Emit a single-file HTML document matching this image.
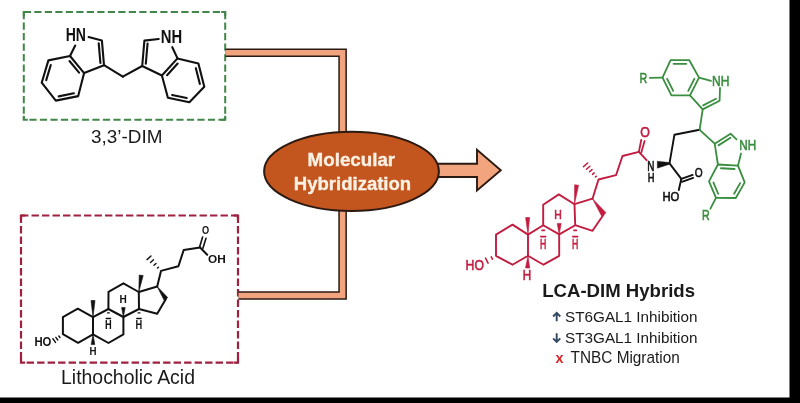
<!DOCTYPE html>
<html><head><meta charset="utf-8"><style>
html,body{margin:0;padding:0;background:#fff;width:800px;height:403px;overflow:hidden;position:relative}
</style></head><body>
<svg width="800" height="403" viewBox="0 0 800 403" style="position:absolute;left:0;top:0;will-change:transform">
<rect width="800" height="403" fill="#fff"/>
<line x1="23.8" y1="12" x2="225.2" y2="12" stroke="#42864a" stroke-width="2" stroke-dasharray="7.2 3.3"/>
<line x1="29.4" y1="119.8" x2="225.2" y2="119.8" stroke="#42864a" stroke-width="2" stroke-dasharray="7.2 3.3"/>
<line x1="23.8" y1="12" x2="23.8" y2="119.8" stroke="#42864a" stroke-width="2" stroke-dasharray="7.2 3.3"/>
<line x1="225.2" y1="12" x2="225.2" y2="119.8" stroke="#42864a" stroke-width="2" stroke-dasharray="7.2 3.3"/>
<path d="M26.8,12 L23.8,12 L23.8,15" fill="none" stroke="#42864a" stroke-width="2" stroke-linecap="square"/>
<path d="M222.2,12 L225.2,12 L225.2,15" fill="none" stroke="#42864a" stroke-width="2" stroke-linecap="square"/>
<path d="M222.2,119.8 L225.2,119.8 L225.2,116.8" fill="none" stroke="#42864a" stroke-width="2" stroke-linecap="square"/>
<path d="M26.8,119.8 L23.8,119.8 L23.8,116.8" fill="none" stroke="#42864a" stroke-width="2" stroke-linecap="square"/>
<line x1="21" y1="215.5" x2="238" y2="215.5" stroke="#a0203f" stroke-width="2.2" stroke-dasharray="7.4 3.1"/>
<line x1="26.6" y1="362.6" x2="238" y2="362.6" stroke="#a0203f" stroke-width="2.2" stroke-dasharray="7.4 3.1"/>
<line x1="21" y1="215.5" x2="21" y2="362.6" stroke="#a0203f" stroke-width="2.2" stroke-dasharray="7.4 3.1"/>
<line x1="238" y1="215.5" x2="238" y2="362.6" stroke="#a0203f" stroke-width="2.2" stroke-dasharray="7.4 3.1"/>
<path d="M24,215.5 L21,215.5 L21,218.5" fill="none" stroke="#a0203f" stroke-width="2.2" stroke-linecap="square"/>
<path d="M235,215.5 L238,215.5 L238,218.5" fill="none" stroke="#a0203f" stroke-width="2.2" stroke-linecap="square"/>
<path d="M235,362.6 L238,362.6 L238,359.6" fill="none" stroke="#a0203f" stroke-width="2.2" stroke-linecap="square"/>
<path d="M24,362.6 L21,362.6 L21,359.6" fill="none" stroke="#a0203f" stroke-width="2.2" stroke-linecap="square"/>
<polyline points="225.5,52.7 342.6,52.7 342.6,150" fill="none" stroke="#2a1a12" stroke-width="8.6" stroke-linejoin="miter"/>
<polyline points="225.5,52.7 342.6,52.7 342.6,150" fill="none" stroke="#f2a47e" stroke-width="5.6" stroke-linejoin="miter"/>
<polyline points="238.5,295.5 342.6,295.5 342.6,190" fill="none" stroke="#2a1a12" stroke-width="8.6" stroke-linejoin="miter"/>
<polyline points="238.5,295.5 342.6,295.5 342.6,190" fill="none" stroke="#f2a47e" stroke-width="5.6" stroke-linejoin="miter"/>
<polygon points="425,163.7 477,163.7 477,149.8 500.8,170.3 477,190.5 477,177 425,177" fill="#f2a47e" stroke="#2a1a12" stroke-width="1.9" stroke-linejoin="miter"/>
<ellipse cx="351.5" cy="171.3" rx="87.4" ry="39.6" fill="#c3551e" stroke="#2a1a12" stroke-width="2"/>
<text x="307.6" y="165.6" font-family="Liberation Sans" font-size="18.55" font-weight="bold" fill="#fdf1e4" stroke="#fdf1e4" stroke-width="0.35" textLength="87.56" lengthAdjust="spacingAndGlyphs">Molecular</text>
<text x="293.8" y="189.5" font-family="Liberation Sans" font-size="18.12" font-weight="bold" fill="#fdf1e4" stroke="#fdf1e4" stroke-width="0.35" textLength="117.37" lengthAdjust="spacingAndGlyphs">Hybridization</text>
<text x="91" y="142.5" font-family="Liberation Sans" font-size="18.14" font-weight="normal" fill="#1a1a1a" textLength="71.37" lengthAdjust="spacingAndGlyphs">3,3’-DIM</text>
<text x="61" y="383.5" font-family="Liberation Sans" font-size="19.71" font-weight="normal" fill="#1a1a1a" textLength="133.97" lengthAdjust="spacingAndGlyphs">Lithocholic Acid</text>
<polygon points="70,56 48.4,60.4 41.7,82.7 55.8,100.6 78.2,96.1 84.1,73.1 70,56" fill="none" stroke="#111" stroke-width="2.1" stroke-linejoin="round" stroke-linecap="round"/>
<line x1="69.48" y1="61.03" x2="79.07" y2="72.65" stroke="#111" stroke-width="2.1" stroke-linecap="round"/>
<line x1="50.78" y1="65" x2="46.22" y2="80.17" stroke="#111" stroke-width="2.1" stroke-linecap="round"/>
<line x1="58.67" y1="96.35" x2="73.91" y2="93.29" stroke="#111" stroke-width="2.1" stroke-linecap="round"/>
<polyline points="75.2,45.5 70,56" fill="none" stroke="#111" stroke-width="2.1" stroke-linejoin="round" stroke-linecap="round"/>
<polyline points="88.6,37.1 101.9,40.6 104,65.2 84.1,73.1" fill="none" stroke="#111" stroke-width="2.1" stroke-linejoin="round" stroke-linecap="round"/>
<line x1="98.72" y1="43.35" x2="100.4" y2="63.03" stroke="#111" stroke-width="2.1" stroke-linecap="round"/>
<polyline points="104,65.2 122.8,76.6" fill="none" stroke="#111" stroke-width="2.1" stroke-linejoin="round" stroke-linecap="round"/>
<text x="65.7" y="41.1" font-family="Liberation Sans" font-size="17.68" font-weight="bold" fill="#111" textLength="20.29" lengthAdjust="spacingAndGlyphs">HN</text>
<polygon points="177.5,58.4 198.4,63.6 204.3,86.7 189.4,102.3 167.9,97.8 161.9,75.5 177.5,58.4" fill="none" stroke="#111" stroke-width="2.1" stroke-linejoin="round" stroke-linecap="round"/>
<line x1="177.66" y1="63.56" x2="167.06" y2="75.19" stroke="#111" stroke-width="2.1" stroke-linecap="round"/>
<line x1="195.86" y1="68.19" x2="199.87" y2="83.89" stroke="#111" stroke-width="2.1" stroke-linecap="round"/>
<line x1="186.7" y1="98.06" x2="172.08" y2="95" stroke="#111" stroke-width="2.1" stroke-linecap="round"/>
<polyline points="172.3,47.2 177.5,58.4" fill="none" stroke="#111" stroke-width="2.1" stroke-linejoin="round" stroke-linecap="round"/>
<polyline points="158.7,39 144.4,40.6 142.2,66 161.9,75.5" fill="none" stroke="#111" stroke-width="2.1" stroke-linejoin="round" stroke-linecap="round"/>
<line x1="147.57" y1="43.43" x2="145.81" y2="63.75" stroke="#111" stroke-width="2.1" stroke-linecap="round"/>
<polyline points="122.8,76.6 142.2,66" fill="none" stroke="#111" stroke-width="2.1" stroke-linejoin="round" stroke-linecap="round"/>
<text x="160.8" y="43.2" font-family="Liberation Sans" font-size="17.54" font-weight="bold" fill="#111" textLength="21.39" lengthAdjust="spacingAndGlyphs">NH</text>
<polygon points="93,317.2 77.8,308.7 62.9,317.2 62.9,334.2 78.1,342.8 93,334.3 93,317.2" fill="none" stroke="#111" stroke-width="2.0" stroke-linejoin="round" stroke-linecap="round"/>
<polyline points="93,317.2 108.4,309 123.4,317 123.4,334.4 108.5,343 93,334.3" fill="none" stroke="#111" stroke-width="2.0" stroke-linejoin="round" stroke-linecap="round"/>
<polyline points="108.4,309 108.5,291.8 123.4,283.3 138.8,292 139,309 123.4,317" fill="none" stroke="#111" stroke-width="2.0" stroke-linejoin="round" stroke-linecap="round"/>
<polyline points="138.8,292 157.2,286.5" fill="none" stroke="#111" stroke-width="2.0" stroke-linejoin="round" stroke-linecap="round"/>
<polyline points="165.9,298.9 157.2,313.8 139,309" fill="none" stroke="#111" stroke-width="2.0" stroke-linejoin="round" stroke-linecap="round"/>
<polygon points="157.2,286.5 164.06,300.19 167.74,297.61" fill="#111" stroke="#111" stroke-width="0.6" stroke-linejoin="round"/>
<polygon points="138.8,292 143.18,275.58 139.22,275.02" fill="#111" stroke="#111" stroke-width="0.6" stroke-linejoin="round"/>
<polygon points="93,317.2 95,300.5 91,300.5" fill="#111" stroke="#111" stroke-width="0.6" stroke-linejoin="round"/>
<polygon points="123.4,317 125.2,307.6 121.6,307.6" fill="#111" stroke="#111" stroke-width="0.6" stroke-linejoin="round"/>
<text x="119.5" y="303.4" font-family="Liberation Sans" font-size="11.3" font-weight="bold" fill="#111" textLength="7.32" lengthAdjust="spacingAndGlyphs">H</text>
<polygon points="93,334.3 91.2,344.6 94.8,344.6" fill="#111" stroke="#111" stroke-width="0.6" stroke-linejoin="round"/>
<text x="89.5" y="354.5" font-family="Liberation Sans" font-size="11.45" font-weight="bold" fill="#111" textLength="7.02" lengthAdjust="spacingAndGlyphs">H</text>
<line x1="107.5" y1="312.9" x2="109.3" y2="312.9" stroke="#111" stroke-width="1.4" stroke-linecap="round"/>
<line x1="106.2" y1="318.5" x2="110.6" y2="318.5" stroke="#111" stroke-width="1.4" stroke-linecap="round"/>
<text x="105" y="328.5" font-family="Liberation Sans" font-size="12.17" font-weight="bold" fill="#111" textLength="6.72" lengthAdjust="spacingAndGlyphs">H</text>
<line x1="138.1" y1="312.9" x2="139.9" y2="312.9" stroke="#111" stroke-width="1.4" stroke-linecap="round"/>
<line x1="136.8" y1="318.5" x2="141.2" y2="318.5" stroke="#111" stroke-width="1.4" stroke-linecap="round"/>
<text x="135.6" y="328.5" font-family="Liberation Sans" font-size="12.17" font-weight="bold" fill="#111" textLength="6.72" lengthAdjust="spacingAndGlyphs">H</text>
<line x1="59.97" y1="337.5" x2="58.87" y2="336.02" stroke="#111" stroke-width="1.4" stroke-linecap="round"/>
<line x1="57.76" y1="339.98" x2="55.86" y2="337.38" stroke="#111" stroke-width="1.4" stroke-linecap="round"/>
<line x1="55.56" y1="342.45" x2="52.84" y2="338.75" stroke="#111" stroke-width="1.4" stroke-linecap="round"/>
<text x="34.4" y="345.7" font-family="Liberation Sans" font-size="12.03" font-weight="bold" fill="#111" textLength="17" lengthAdjust="spacingAndGlyphs">HO</text>
<polyline points="157.2,286.5 161,270.9 178.4,266.3 183.7,250 200.1,247.5" fill="none" stroke="#111" stroke-width="2.0" stroke-linejoin="round" stroke-linecap="round"/>
<line x1="157.5" y1="268.08" x2="158.5" y2="267.17" stroke="#111" stroke-width="1.4" stroke-linecap="round"/>
<line x1="154" y1="265.26" x2="156" y2="263.44" stroke="#111" stroke-width="1.4" stroke-linecap="round"/>
<line x1="150.51" y1="262.44" x2="153.49" y2="259.71" stroke="#111" stroke-width="1.4" stroke-linecap="round"/>
<line x1="147.01" y1="259.62" x2="150.99" y2="255.98" stroke="#111" stroke-width="1.4" stroke-linecap="round"/>
<line x1="199.6" y1="247" x2="202.6" y2="237" stroke="#111" stroke-width="1.6" stroke-linecap="round"/>
<line x1="202.9" y1="248.2" x2="206" y2="238.2" stroke="#111" stroke-width="1.6" stroke-linecap="round"/>
<line x1="200.1" y1="247.5" x2="207.2" y2="254.8" stroke="#111" stroke-width="2.0" stroke-linecap="round"/>
<text x="202.1" y="234" font-family="Liberation Sans" font-size="10.29" font-weight="bold" fill="#111" textLength="7.18" lengthAdjust="spacingAndGlyphs">O</text>
<text x="208.1" y="262.5" font-family="Liberation Sans" font-size="10.57" font-weight="bold" fill="#111" textLength="17.7" lengthAdjust="spacingAndGlyphs">OH</text>
<polygon points="528,234.6 512.5,224.6 496,234.6 496,255.8 512.5,264.7 528,255.8 528,234.6" fill="none" stroke="#c21d40" stroke-width="1.9" stroke-linejoin="round" stroke-linecap="round"/>
<polyline points="528,234.6 543.2,225.2 559.2,234.4 559.2,255.8 543.5,264.7 528,255.8" fill="none" stroke="#c21d40" stroke-width="1.9" stroke-linejoin="round" stroke-linecap="round"/>
<polyline points="543.2,225.2 543.2,204.8 558.8,194.4 574.5,204.2 575.2,225.2 559.2,234.4" fill="none" stroke="#c21d40" stroke-width="1.9" stroke-linejoin="round" stroke-linecap="round"/>
<polyline points="574.5,204.2 592.5,198.7" fill="none" stroke="#c21d40" stroke-width="1.9" stroke-linejoin="round" stroke-linecap="round"/>
<polyline points="603.8,214.3 592.5,230.8 575.2,225.2" fill="none" stroke="#c21d40" stroke-width="1.9" stroke-linejoin="round" stroke-linecap="round"/>
<polygon points="592.5,198.7 601.57,215.91 606.03,212.69" fill="#c21d40" stroke="#c21d40" stroke-width="0.6" stroke-linejoin="round"/>
<polygon points="574.5,204.2 578.59,185.22 574.61,184.78" fill="#c21d40" stroke="#c21d40" stroke-width="0.6" stroke-linejoin="round"/>
<polygon points="528,234.6 529.6,217.45 525.6,217.55" fill="#c21d40" stroke="#c21d40" stroke-width="0.6" stroke-linejoin="round"/>
<polygon points="559.2,234.4 561.2,223.4 557.2,223.4" fill="#c21d40" stroke="#c21d40" stroke-width="0.6" stroke-linejoin="round"/>
<text x="554.2" y="218.6" font-family="Liberation Sans" font-size="12.46" font-weight="normal" fill="#c21d40" stroke="#c21d40" stroke-width="0.6" textLength="7.52" lengthAdjust="spacingAndGlyphs">H</text>
<polygon points="528,255.8 525.5,267.93 529.7,268.07" fill="#c21d40" stroke="#c21d40" stroke-width="0.6" stroke-linejoin="round"/>
<text x="522.8" y="280.4" font-family="Liberation Sans" font-size="14.2" font-weight="normal" fill="#c21d40" stroke="#c21d40" stroke-width="0.6" textLength="8.43" lengthAdjust="spacingAndGlyphs">H</text>
<line x1="542" y1="230.4" x2="544.4" y2="230.4" stroke="#c21d40" stroke-width="1.6" stroke-linecap="round"/>
<line x1="540.7" y1="236.6" x2="545.7" y2="236.6" stroke="#c21d40" stroke-width="1.6" stroke-linecap="round"/>
<text x="540" y="249" font-family="Liberation Sans" font-size="14.35" font-weight="normal" fill="#c21d40" stroke="#c21d40" stroke-width="0.6" textLength="6.32" lengthAdjust="spacingAndGlyphs">H</text>
<line x1="574" y1="230.4" x2="576.4" y2="230.4" stroke="#c21d40" stroke-width="1.6" stroke-linecap="round"/>
<line x1="572.7" y1="236.6" x2="577.7" y2="236.6" stroke="#c21d40" stroke-width="1.6" stroke-linecap="round"/>
<text x="572" y="249" font-family="Liberation Sans" font-size="14.35" font-weight="normal" fill="#c21d40" stroke="#c21d40" stroke-width="0.6" textLength="6.32" lengthAdjust="spacingAndGlyphs">H</text>
<line x1="492.44" y1="259.08" x2="491.28" y2="256.84" stroke="#c21d40" stroke-width="1.6" stroke-linecap="round"/>
<line x1="488.1" y1="263.08" x2="485.5" y2="258.12" stroke="#c21d40" stroke-width="1.6" stroke-linecap="round"/>
<text x="465.6" y="270.2" font-family="Liberation Sans" font-size="14.93" font-weight="normal" fill="#c21d40" stroke="#c21d40" stroke-width="0.6" textLength="18.3" lengthAdjust="spacingAndGlyphs">HO</text>
<polyline points="592.5,198.7 598.5,179.5 616,175.2 622.5,156 638.9,151.8" fill="none" stroke="#c21d40" stroke-width="1.9" stroke-linejoin="round" stroke-linecap="round"/>
<line x1="595.5" y1="176.93" x2="596.34" y2="176.19" stroke="#c21d40" stroke-width="1.5" stroke-linecap="round"/>
<line x1="592.5" y1="174.36" x2="594.18" y2="172.88" stroke="#c21d40" stroke-width="1.5" stroke-linecap="round"/>
<line x1="589.5" y1="171.79" x2="592.02" y2="169.57" stroke="#c21d40" stroke-width="1.5" stroke-linecap="round"/>
<line x1="586.5" y1="169.22" x2="589.86" y2="166.26" stroke="#c21d40" stroke-width="1.5" stroke-linecap="round"/>
<line x1="583.5" y1="166.65" x2="587.7" y2="162.95" stroke="#c21d40" stroke-width="1.5" stroke-linecap="round"/>
<line x1="638.9" y1="151.8" x2="641.2" y2="140" stroke="#c21d40" stroke-width="1.8" stroke-linecap="round"/>
<line x1="641.3" y1="152.4" x2="644.6" y2="141" stroke="#c21d40" stroke-width="1.8" stroke-linecap="round"/>
<text x="640.3" y="137.1" font-family="Liberation Sans" font-size="14.29" font-weight="normal" fill="#c21d40" stroke="#c21d40" stroke-width="0.6" textLength="9.57" lengthAdjust="spacingAndGlyphs">O</text>
<line x1="638.9" y1="151.8" x2="646.6" y2="160.2" stroke="#c21d40" stroke-width="1.9" stroke-linecap="round"/>
<text x="647.3" y="171" font-family="Liberation Sans" font-size="14.06" font-weight="normal" fill="#111" stroke="#111" stroke-width="0.6" textLength="7.22" lengthAdjust="spacingAndGlyphs">N</text>
<text x="647.8" y="182.2" font-family="Liberation Sans" font-size="12.46" font-weight="normal" fill="#111" stroke="#111" stroke-width="0.6" textLength="6.72" lengthAdjust="spacingAndGlyphs">H</text>
<polygon points="657.3,161.2 669.8,162.6 669.8,164.2 657.3,168.2" fill="#111" stroke="#111" stroke-width="0.4"/>
<polyline points="669.5,163.4 674.4,134.8 699.6,129.8" fill="none" stroke="#111" stroke-width="1.9" stroke-linejoin="round" stroke-linecap="round"/>
<line x1="669.5" y1="163.4" x2="681.3" y2="178.9" stroke="#111" stroke-width="1.9" stroke-linecap="round"/>
<line x1="681.3" y1="178.9" x2="692.7" y2="174.9" stroke="#111" stroke-width="1.8" stroke-linecap="round"/>
<line x1="681.9" y1="181.9" x2="693.2" y2="177.9" stroke="#111" stroke-width="1.8" stroke-linecap="round"/>
<text x="694.7" y="177.4" font-family="Liberation Sans" font-size="12.71" font-weight="normal" fill="#111" stroke="#111" stroke-width="0.6" textLength="7.88" lengthAdjust="spacingAndGlyphs">O</text>
<line x1="681.3" y1="178.9" x2="678.8" y2="190" stroke="#111" stroke-width="1.9" stroke-linecap="round"/>
<text x="662.4" y="200.7" font-family="Liberation Sans" font-size="12.17" font-weight="normal" fill="#111" stroke="#111" stroke-width="0.6" textLength="16.9" lengthAdjust="spacingAndGlyphs">HO</text>
<polygon points="670.6,60.2 689.3,60.2 699,77.6 690,95.3 671.4,95.3 662.5,77.6 670.6,60.2" fill="none" stroke="#3a8e3f" stroke-width="1.8" stroke-linejoin="round" stroke-linecap="round"/>
<line x1="673.59" y1="63.8" x2="686.31" y2="63.8" stroke="#3a8e3f" stroke-width="1.8" stroke-linecap="round"/>
<line x1="673.19" y1="90.85" x2="667.14" y2="78.81" stroke="#3a8e3f" stroke-width="1.8" stroke-linecap="round"/>
<line x1="694.35" y1="78.8" x2="688.23" y2="90.84" stroke="#3a8e3f" stroke-width="1.8" stroke-linecap="round"/>
<line x1="699" y1="77.6" x2="711" y2="80.8" stroke="#3a8e3f" stroke-width="1.8" stroke-linecap="round"/>
<polyline points="720,88 719.6,100.8 702.7,109.4 690,95.3" fill="none" stroke="#3a8e3f" stroke-width="1.8" stroke-linejoin="round" stroke-linecap="round"/>
<line x1="716.03" y1="98.8" x2="703.19" y2="105.34" stroke="#3a8e3f" stroke-width="1.8" stroke-linecap="round"/>
<line x1="662.5" y1="77.6" x2="649.9" y2="77.8" stroke="#3a8e3f" stroke-width="1.8" stroke-linecap="round"/>
<text x="639.5" y="82.9" font-family="Liberation Sans" font-size="14.78" font-weight="normal" fill="#3a8e3f" stroke="#3a8e3f" stroke-width="0.6" textLength="7.72" lengthAdjust="spacingAndGlyphs">R</text>
<text x="712" y="85.7" font-family="Liberation Sans" font-size="15.22" font-weight="normal" fill="#3a8e3f" stroke="#3a8e3f" stroke-width="0.6" textLength="17.39" lengthAdjust="spacingAndGlyphs">NH</text>
<line x1="702.7" y1="109.4" x2="699.6" y2="129.8" stroke="#3a8e3f" stroke-width="1.8" stroke-linecap="round"/>
<line x1="699.6" y1="129.8" x2="714.7" y2="143.7" stroke="#3a8e3f" stroke-width="1.8" stroke-linecap="round"/>
<polygon points="738,165.6 744.7,182.4 735.8,198 716,197.8 709,181.3 717.9,164.5 738,165.6" fill="none" stroke="#3a8e3f" stroke-width="1.8" stroke-linejoin="round" stroke-linecap="round"/>
<line x1="720.92" y1="168.27" x2="734.59" y2="169.02" stroke="#3a8e3f" stroke-width="1.8" stroke-linecap="round"/>
<line x1="740.15" y1="183.11" x2="734.1" y2="193.72" stroke="#3a8e3f" stroke-width="1.8" stroke-linecap="round"/>
<line x1="718.19" y1="193.75" x2="713.43" y2="182.53" stroke="#3a8e3f" stroke-width="1.8" stroke-linecap="round"/>
<polyline points="736.5,139.3 730.6,133.7 714.7,143.7 717.9,164.5" fill="none" stroke="#3a8e3f" stroke-width="1.8" stroke-linejoin="round" stroke-linecap="round"/>
<line x1="730.5" y1="137.78" x2="718.42" y2="145.38" stroke="#3a8e3f" stroke-width="1.8" stroke-linecap="round"/>
<line x1="738" y1="165.6" x2="741" y2="153.5" stroke="#3a8e3f" stroke-width="1.8" stroke-linecap="round"/>
<text x="739.2" y="150.4" font-family="Liberation Sans" font-size="15.07" font-weight="normal" fill="#3a8e3f" stroke="#3a8e3f" stroke-width="0.6" textLength="16.89" lengthAdjust="spacingAndGlyphs">NH</text>
<line x1="716" y1="197.8" x2="710.4" y2="208.7" stroke="#3a8e3f" stroke-width="1.8" stroke-linecap="round"/>
<text x="702" y="220.1" font-family="Liberation Sans" font-size="14.49" font-weight="normal" fill="#3a8e3f" stroke="#3a8e3f" stroke-width="0.6" textLength="7.72" lengthAdjust="spacingAndGlyphs">R</text>
<text x="542.2" y="296.6" font-family="Liberation Sans" font-size="18.84" font-weight="bold" fill="#1a1a1a" textLength="152.84" lengthAdjust="spacingAndGlyphs">LCA-DIM Hybrids</text>
<path d="M556.7,321.3 L556.7,313.5 M553.1,316.5 L556.7,312.9 L560.3,316.5" fill="none" stroke="#33495f" stroke-width="1.9" stroke-linecap="butt" stroke-linejoin="miter"/>
<text x="565" y="322" font-family="Liberation Sans" font-size="15.07" font-weight="normal" fill="#1a1a1a" textLength="132.43" lengthAdjust="spacingAndGlyphs">ST6GAL1 Inhibition</text>
<path d="M556.7,333.2 L556.7,341.4 M553.1,338.4 L556.7,342 L560.3,338.4" fill="none" stroke="#33495f" stroke-width="1.9" stroke-linecap="butt" stroke-linejoin="miter"/>
<text x="565" y="343.2" font-family="Liberation Sans" font-size="15.36" font-weight="normal" fill="#1a1a1a" textLength="132.43" lengthAdjust="spacingAndGlyphs">ST3GAL1 Inhibition</text>
<text x="555.5" y="363" font-family="Liberation Sans" font-size="15.09" font-weight="bold" fill="#d42424" textLength="8.02" lengthAdjust="spacingAndGlyphs">x</text>
<text x="570.6" y="363.3" font-family="Liberation Sans" font-size="15.65" font-weight="normal" fill="#1a1a1a" textLength="109.17" lengthAdjust="spacingAndGlyphs">TNBC Migration</text>
<rect x="789.5" y="0" width="10.5" height="403" fill="#000"/>
<rect x="0" y="397.5" width="800" height="5.5" fill="#000"/>
</svg>
</body></html>
